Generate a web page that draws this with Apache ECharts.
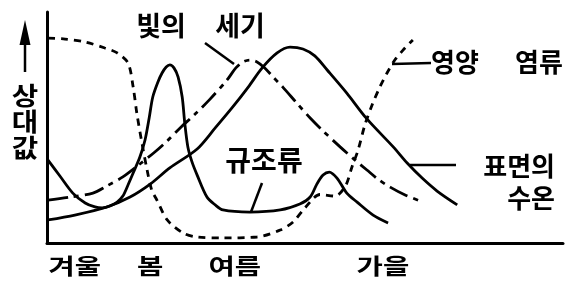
<!DOCTYPE html>
<html>
<head>
<meta charset="utf-8">
<script src="https://cdn.jsdelivr.net/npm/echarts@6/dist/echarts.min.js"></script>
<style>html,body{margin:0;padding:0;background:#fff}#c{width:580px;height:298px}</style>
</head>
<body>
<div id="c"></div>
<script>
// Season tick labels and their positions on the time axis (0-100)
var seasons = ['겨울', '봄', '여름', '가을'];
var seasonPos = [5.4, 20.0, 36.4, 65.1];

// 영양 염류 (nutrients)
var nutrients = [[0.2,88.7],[3.5,88.3],[7.4,87.0],[11.2,84.4],[13.6,82.3],[15.7,77.9],[16.7,67.5],[17.4,56.3],[18.4,43.3],[19.4,31.6],[20.3,22.9],[21.3,18.6],[23.3,10.0],[26.4,4.3],[29.1,2.6],[34.1,2.2],[40.7,2.6],[45.2,5.6],[47.7,9.1],[50.0,15.2],[52.9,21.0],[55.8,20.3],[57.8,24.5],[59.1,32.9],[60.3,40.3],[61.6,51.1],[63.0,59.7],[64.5,67.5],[65.9,73.6],[67.4,79.2],[69.0,83.5],[70.9,87.9]];

// 빛의 세기 (light intensity)
var light = [[0.2,18.6],[4.5,19.9],[8.9,21.6],[11.6,24.7],[14.7,28.6],[18.0,34.2],[20.9,39.4],[23.3,44.2],[25.8,49.8],[28.7,55.8],[31.6,62.3],[34.9,70.6],[36.6,75.8],[38.0,78.4],[39.3,79.2],[40.7,78.4],[42.2,75.8],[43.8,71.9],[45.7,67.5],[48.4,60.6],[51.0,54.1],[53.5,48.5],[56.8,41.6],[59.7,35.9],[62.0,31.6],[64.1,27.7],[66.5,24.2],[69.4,20.8],[72.9,17.7]];

// 표면의 수온 (surface water temperature)
var temperature = [[0.2,10.0],[5.4,12.1],[11.6,15.6],[16.1,19.9],[20.0,25.5],[23.8,32.5],[29.1,40.7],[32.6,49.8],[36.0,58.9],[39.0,67.5],[41.7,75.8],[44.6,82.3],[47.1,84.8],[49.6,84.0],[51.9,81.0],[54.3,74.9],[58.1,64.9],[62.0,53.7],[67.1,41.6],[69.8,34.6],[72.7,28.1],[75.6,22.5],[79.5,16.5]];

// 규조류 (diatoms)
var diatoms = [[0.2,35.9],[2.5,29.0],[5.0,21.6],[7.4,17.3],[9.3,15.6],[10.7,15.2],[12.2,16.0],[13.6,17.7],[14.7,20.3],[15.7,25.1],[16.7,30.3],[18.0,37.2],[19.0,44.6],[19.8,54.1],[20.5,63.2],[21.5,69.7],[22.3,73.6],[23.1,76.2],[23.8,77.1],[24.6,75.8],[25.4,71.9],[26.2,63.2],[26.7,51.9],[27.3,41.6],[28.1,35.1],[29.1,29.4],[31.0,19.9],[32.6,16.5],[34.1,14.3],[39.3,13.4],[45.2,14.3],[49.0,16.9],[51.0,19.9],[52.3,25.5],[53.5,29.4],[54.7,30.7],[56.2,28.1],[58.1,21.6],[60.1,17.7],[63.2,12.1],[66.1,8.7]];

var FONT = '"Noto Sans CJK KR", "Noto Sans", sans-serif';
var chart = echarts.init(document.getElementById('c'));

function lineSeries(name, data, type) {
  return {
    name: name, type: 'line', data: data, smooth: 0.3, symbol: 'none',
    lineStyle: { color: '#000', width: 2.8, type: type, cap: 'butt' },
    z: 3
  };
}

chart.setOption({
  animation: false,
  backgroundColor: '#fff',
  grid: { left: 47, right: 17, top: 12, bottom: 55 },
  xAxis: {
    type: 'value', min: 0, max: 100,
    axisLine: { show: true, lineStyle: { color: '#000', width: 3 } },
    axisTick: { show: false }, axisLabel: { show: false }, splitLine: { show: false }
  },
  yAxis: {
    type: 'value', min: 0, max: 100,
    axisLine: { show: true, lineStyle: { color: '#000', width: 3 } },
    axisTick: { show: false }, axisLabel: { show: false }, splitLine: { show: false }
  },
  series: [
    lineSeries('영양 염류', nutrients, [7, 6]),
    lineSeries('빛의 세기', light, [20, 6, 5, 6]),
    lineSeries('표면의 수온', temperature, 'solid'),
    lineSeries('규조류', diatoms, 'solid')
  ]
});

var g = [];
function txt(s, x, y, size, align, sx) {
  g.push({ type: 'text', x: x, y: y, scaleX: sx || 1, originX: 0, originY: 0, z: 10,
    style: { text: s, font: 'bold ' + size + 'px ' + FONT, fill: '#000',
      textAlign: align || 'center', textVerticalAlign: 'middle' } });
}
function seg(x1, y1, x2, y2, w) {
  g.push({ type: 'line', z: 10, shape: { x1: x1, y1: y1, x2: x2, y2: y2 },
    style: { stroke: '#000', lineWidth: w || 2.5 } });
}

// season labels on the x axis, through the scale
seasons.forEach(function (s, i) {
  var p = chart.convertToPixel({ gridIndex: 0 }, [seasonPos[i], 0]);
  txt(s, p[0], 266, 22, 'center', 1.3);
});

// y-axis label with arrow
seg(25, 72, 25, 40, 2.5);
g.push({ type: 'polygon', z: 10, shape: { points: [[25, 20], [19.5, 45], [30.5, 45]] }, style: { fill: '#000' } });
g.push({ type: 'text', x: 25, y: 121, scaleX: 1.15, originX: 0, originY: 0, z: 10,
  style: { text: '상\n대\n값', font: 'bold 25px ' + FONT, lineHeight: 26, fill: '#000',
    textAlign: 'center', textVerticalAlign: 'middle' } });

// annotations
txt('빛의', 161, 26, 27);
txt('세기', 240, 26, 27);
seg(205, 43, 234, 64);

txt('영양', 455, 62, 26);
txt('염류', 539, 62, 26);
seg(392, 64, 431, 63);

txt('규조류', 264, 160, 28);
seg(262, 183, 251, 212);

txt('표면의', 555, 166, 26, 'right');
txt('수온', 555, 198, 26, 'right');
seg(410, 165, 456, 165);

chart.setOption({ graphic: g });
</script>
</body>
</html>
